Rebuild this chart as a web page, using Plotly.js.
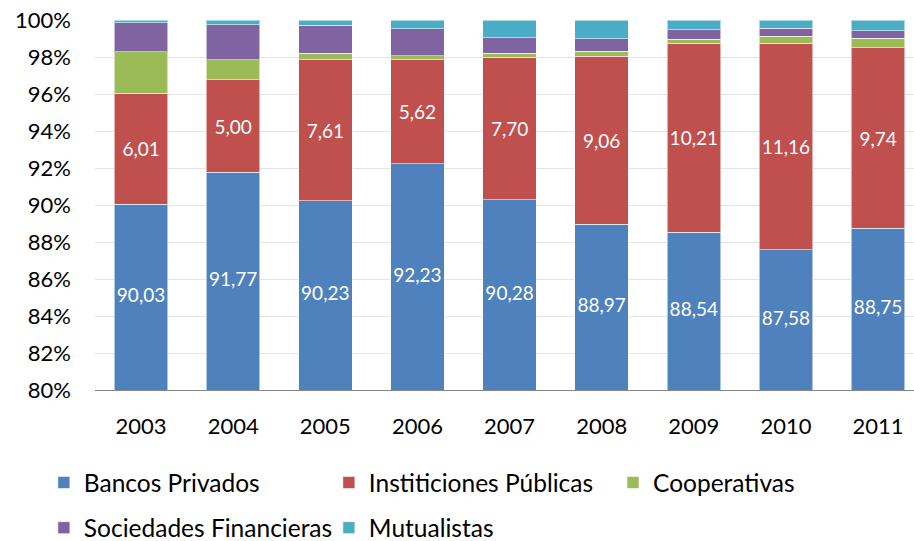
<!DOCTYPE html>
<html>
<head>
<meta charset="utf-8">
<script src="https://cdn.plot.ly/plotly-3.0.1.min.js"></script>
<style>html,body{margin:0;padding:0;background:#fff;}#chart{width:914px;height:541px;}</style>
</head>
<body>
<div id="chart"></div>
<script>
const years = ['2003','2004','2005','2006','2007','2008','2009','2010','2011'];
const bancosPrivados = [90.03, 91.77, 90.23, 92.23, 90.28, 88.97, 88.54, 87.58, 88.75];
const institucionesPublicas = [6.01, 5.00, 7.61, 5.62, 7.70, 9.06, 10.21, 11.16, 9.74];
const cooperativas = [2.24, 1.07, 0.35, 0.21, 0.23, 0.28, 0.21, 0.37, 0.52];
const sociedadesFinancieras = [1.57, 1.91, 1.52, 1.47, 0.84, 0.68, 0.52, 0.45, 0.41];
const mutualistas = [0.15, 0.25, 0.29, 0.47, 0.95, 1.01, 0.52, 0.44, 0.58];
const yTicks = [80, 82, 84, 86, 88, 90, 92, 94, 96, 98, 100];

const FONT = 'Lato, "Open Sans", sans-serif';
const yMin = yTicks[0], yMax = yTicks[yTicks.length - 1];
const fmt = v => v.toFixed(2).replace('.', ',');
const edge = {color: 'rgba(255,255,255,0.55)', width: 1};

function bar(name, vals, color, legend, withText) {
  const t = {
    type: 'bar', name: name, x: years, y: vals, width: 0.58,
    marker: {color: color, line: edge}, legend: legend,
    hoverinfo: 'name+y'
  };
  if (withText) {
    t.text = vals.map(fmt);
    t.textposition = 'inside';
    t.insidetextanchor = 'middle';
    t.textangle = 0;
    t.textfont = {color: '#ffffff', size: 19, family: FONT};
    t.constraintext = 'none';
  } else {
    t.textposition = 'none';
  }
  return t;
}

const data = [
  bar('Bancos Privados', bancosPrivados, '#4F81BD', 'legend', false),
  bar('Institiciones Públicas', institucionesPublicas, '#C0504D', 'legend', true),
  bar('Cooperativas', cooperativas, '#9BBB59', 'legend3', false),
  bar('Sociedades Financieras', sociedadesFinancieras, '#8064A2', 'legend2', false),
  bar('Mutualistas', mutualistas, '#4BACC6', 'legend2', false),
  {
    // labels of the first series, centred in the visible part of each bar
    type: 'scatter', mode: 'text', x: years,
    y: bancosPrivados.map(v => (yMin + v) / 2),
    text: bancosPrivados.map(fmt),
    textfont: {color: '#ffffff', size: 19, family: FONT},
    showlegend: false, hoverinfo: 'skip', cliponaxis: false
  }
];

const legendCommon = {
  orientation: 'h', xanchor: 'left', yanchor: 'middle',
  xref: 'container', yref: 'container', x: 0.048,
  font: {family: FONT, size: 24.5, color: '#000'},
  entrywidth: 240, entrywidthmode: 'pixels',
  bgcolor: 'rgba(0,0,0,0)', traceorder: 'normal'
};

const layout = {
  width: 914, height: 541,
  margin: {l: 95, r: 0, t: 20, b: 151, pad: 0},
  paper_bgcolor: '#fff', plot_bgcolor: '#fff',
  barmode: 'stack', bargap: 0.42,
  font: {family: FONT, size: 22, color: '#000'},
  showlegend: true,
  xaxis: {
    type: 'category', range: [-0.5, 8.39],
    showgrid: false, zeroline: false,
    showline: true, linecolor: '#868686', linewidth: 1,
    ticks: '', tickfont: {family: FONT, size: 22, color: '#000'},
    ticklabelstandoff: 17
  },
  yaxis: {
    range: [yMin, yMax], tickvals: yTicks, ticktext: yTicks.map(v => v + '%'),
    showgrid: true, gridcolor: '#E4E4E4', gridwidth: 1,
    zeroline: false, showline: false, ticks: '',
    tickfont: {family: FONT, size: 22, color: '#000'},
    ticklabelstandoff: 23
  },
  legend: Object.assign({}, legendCommon, {y: 0.108}),
  legend3: Object.assign({}, legendCommon, {y: 0.108, x: 0.6707}),
  legend2: Object.assign({}, legendCommon, {y: 0.0245})
};

Plotly.newPlot('chart', data, layout, {displayModeBar: false, staticPlot: true});
</script>
</body>
</html>
